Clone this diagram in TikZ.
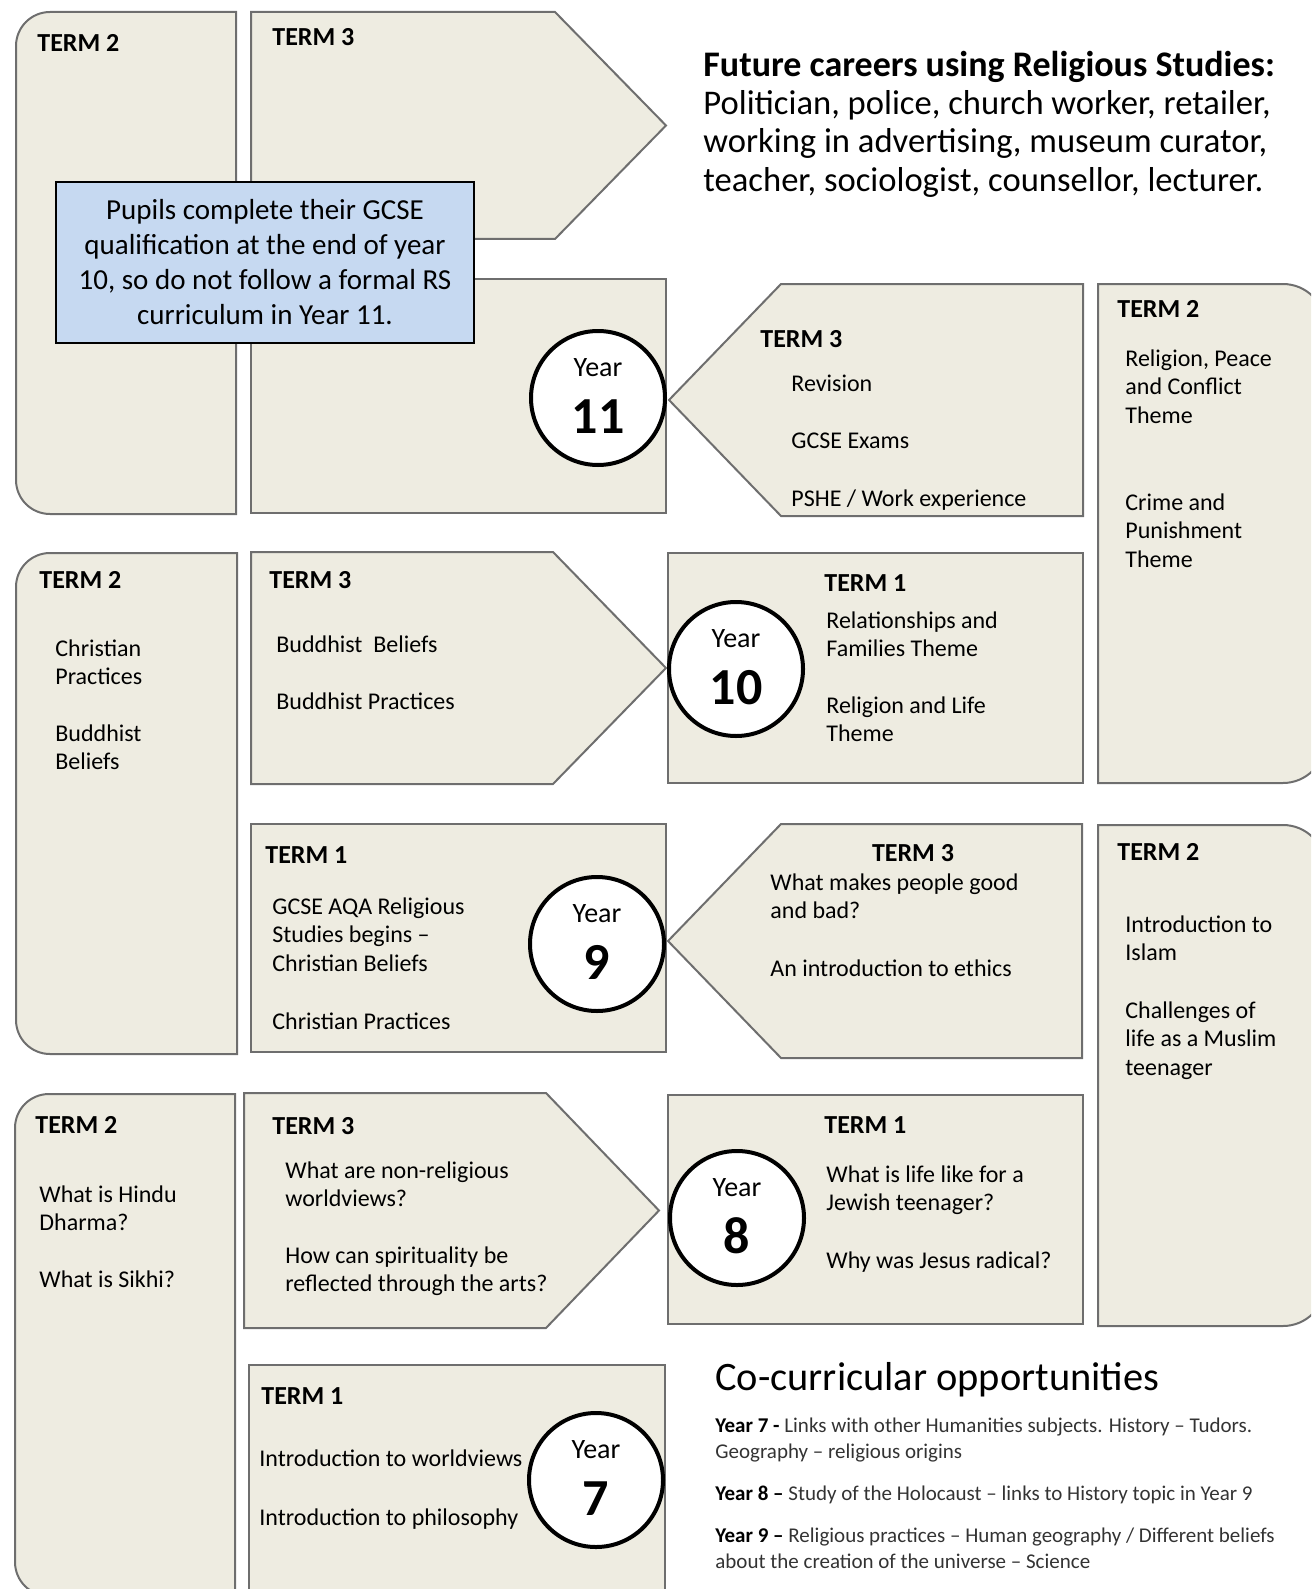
\documentclass[tikz,border=0pt]{standalone}
\usepackage{fontspec}
\setmainfont{Carlito}
\definecolor{boxfill}{HTML}{EEECE1}
\definecolor{boxline}{HTML}{6E6E6E}
\definecolor{notefill}{HTML}{C6D9F1}
\definecolor{cotext}{HTML}{333333}
\tikzset{
  box/.style={draw=boxline, fill=boxfill, line width=1pt, line join=miter},
  yearc/.style={circle, draw=black, fill=white, line width=2pt, minimum size=67pt, inner sep=0pt},
  yeartxt/.style={anchor=base, inner sep=0pt, font=\fontsize{14}{16}\selectfont},
  yearnum/.style={anchor=base, inner sep=0pt, font=\fontsize{26}{30}\selectfont\bfseries},
  term/.style={anchor=base west, inner sep=0pt, font=\fontsize{13}{15}\selectfont\bfseries},
  termc/.style={term, anchor=base},
  body/.style={anchor=base west, inner sep=0pt, align=left, font=\fontsize{12}{14.25}\selectfont},
  note/.style={draw=black, fill=notefill, line width=1pt, minimum width=209pt, minimum height=80.5pt,
    inner sep=0pt, align=center, font=\fontsize{14.5}{17.5}\selectfont},
  careers/.style={anchor=base west, inner sep=0pt, align=left, font=\fontsize{17.3}{19.25}\selectfont},
  cohead/.style={anchor=base west, inner sep=0pt, font=\fontsize{20.2}{24}\selectfont},
  coitem/.style={anchor=base west, inner sep=0pt, align=left, text=cotext, font=\fontsize{10.5}{13.25}\selectfont},
}
% left-rounded box: L T R B
\newcommand\boxroundL[4]{%
  \draw[box] (#3,#2) -- (#1+34,#2) .. controls (#1+15.2,#2) and (#1,#2+15.2) .. (#1,#2+34)
    -- (#1,#4-34) .. controls (#1,#4-15.2) and (#1+15.2,#4) .. (#1+34,#4) -- (#3,#4) -- cycle;}
% right-rounded box: L T R B
\newcommand\boxroundR[4]{%
  \draw[box] (#1,#2) -- (#3-42,#2) .. controls (#3-18.8,#2) and (#3,#2+18.8) .. (#3,#2+42)
    -- (#3,#4-42) .. controls (#3,#4-18.8) and (#3-18.8,#4) .. (#3-42,#4) -- (#1,#4) -- cycle;}
% right-pointing pentagon: L T S tipX B
\newcommand\penR[5]{%
  \draw[box] (#1,#2) -- (#3,#2) -- (#4,{(#2+#5)/2}) -- (#3,#5) -- (#1,#5) -- cycle;}
% left-pointing pentagon: tipX S R T B
\newcommand\penL[5]{%
  \draw[box] (#1,{(#4+#5)/2}) -- (#2,#4) -- (#3,#4) -- (#3,#5) -- (#2,#5) -- cycle;}

\begin{document}
\begin{tikzpicture}[x=0.5pt, y=-0.5pt]
\useasboundingbox (0,0) rectangle (1311,1589);
\clip (0,0) rectangle (1311,1589);

% ---------- Year 11 row ----------
\boxroundL{16}{12}{236}{514}
\penR{251}{12}{555}{666}{239}
\draw[box] (251,279) rectangle (666,513);
\penL{669}{781}{1083}{284}{516}
\boxroundR{1098}{284}{1325}{783}

% ---------- Year 10 / 9 ----------
\boxroundL{16}{553}{237}{1054}
\penR{251}{552}{553}{666}{784}
\draw[box] (668,553) rectangle (1083,783);
\draw[box] (251,824) rectangle (666,1052);
\penL{668}{781}{1082}{824}{1058}
\boxroundR{1098}{825}{1325}{1326}

% ---------- Year 8 / 7 ----------
\boxroundL{15}{1094}{235}{1596}
\penR{244}{1093}{546}{659}{1328}
\draw[box] (668,1095) rectangle (1083,1324);
\draw[box] (249,1365) rectangle (665,1605);

% ---------- circles ----------
\node[yearc] (c11) at (598,398) {};
\node[yeartxt] (c11a) at (598,376) {Year};
\node[yearnum] (c11b) at (598,433) {11};
\node[yearc] (c10) at (736,669) {};
\node[yeartxt] (c10a) at (736,647) {Year};
\node[yearnum] (c10b) at (736,704) {10};
\node[yearc] (c9) at (597,944) {};
\node[yeartxt] (c9a) at (597,922) {Year};
\node[yearnum] (c9b) at (597,979) {9};
\node[yearc] (c8) at (737,1218) {};
\node[yeartxt] (c8a) at (737,1196) {Year};
\node[yearnum] (c8b) at (737,1253) {8};
\node[yearc] (c7) at (596,1480) {};
\node[yeartxt] (c7a) at (596,1458) {Year};
\node[yearnum] (c7b) at (596,1515) {7};

% ---------- note ----------
\node[note] (note) at (265,262.5) {Pupils complete their GCSE\\qualification at the end of year\\10, so do not follow a formal RS\\curriculum in Year 11.};

% ---------- Year 11 texts ----------
\node[term] (t11a) at (37,52) {TERM 2};
\node[term] (t11b) at (272,46) {TERM 3};
\node[term] (t11c) at (760,347) {TERM 3};
\node[body] (t11c1) at (791,391) {Revision};
\node[body] (t11c2) at (791,448) {GCSE Exams};
\node[body] (t11c3) at (791,506) {PSHE / Work experience};

\node[term] (t10r) at (1117,317) {TERM 2};
\node[body] (t10r1) at (1125,423) {Religion, Peace\\and Conflict\\Theme};
\node[body] (t10r2) at (1125,567) {Crime and\\Punishment\\Theme};

% ---------- Year 10 texts ----------
\node[term] (t10a) at (824,591) {TERM 1};
\node[body] (t10a1) at (826,656.5) {Relationships and\\Families Theme};
\node[body] (t10a2) at (826,741.5) {Religion and Life\\Theme};
\node[term] (t10l) at (39,588) {TERM 2};
\node[body] (t10l1) at (55,684.5) {Christian\\Practices};
\node[body] (t10l2) at (55,769.5) {Buddhist\\Beliefs};
\node[term] (t10m) at (269,588) {TERM 3};
\node[body] (t10m1) at (276,652) {Buddhist\ \ Beliefs};
\node[body] (t10m2) at (276,709) {Buddhist Practices};

% ---------- Year 9 texts ----------
\node[term] (t9a) at (265,863) {TERM 1};
\node[body] (t9a1) at (272,971) {GCSE AQA Religious\\Studies begins –\\Christian Beliefs};
\node[body] (t9a2) at (272,1029) {Christian Practices};
\node[termc] (t9b) at (913,861) {TERM 3};
\node[body] (t9b1) at (770,918.5) {What makes people good\\and bad?};
\node[body] (t9b2) at (770,976) {An introduction to ethics};
\node[term] (t9r) at (1117,860) {TERM 2};
\node[body] (t9r1) at (1125,960.5) {Introduction to\\Islam};
\node[body] (t9r2) at (1125,1075) {Challenges of\\life as a Muslim\\teenager};

% ---------- Year 8 texts ----------
\node[term] (t8a) at (824,1133) {TERM 1};
\node[body] (t8a1) at (826,1210.5) {What is life like for a\\Jewish teenager?};
\node[body] (t8a2) at (826,1268) {Why was Jesus radical?};
\node[term] (t8l) at (35,1133) {TERM 2};
\node[body] (t8l1) at (39,1230.5) {What is Hindu\\Dharma?};
\node[body] (t8l2) at (39,1287) {What is Sikhi?};
\node[term] (t8m) at (272,1134) {TERM 3};
\node[body] (t8m1) at (285,1206.5) {What are non-religious\\worldviews?};
\node[body] (t8m2) at (285,1291.5) {How can spirituality be\\reflected through the arts?};

% ---------- Year 7 texts ----------
\node[term] (t7a) at (261,1404) {TERM 1};
\node[body] (t7a1) at (259,1466) {Introduction to worldviews};
\node[body] (t7a2) at (259,1525) {Introduction to philosophy};

% ---------- careers ----------
\node[careers] (careers) at (703,191.5) {{\fontsize{18}{19.25}\selectfont\bfseries Future careers using Religious Studies:}\\Politician, police, church worker, retailer,\\working in advertising, museum curator,\\teacher, sociologist, counsellor, lecturer.};

% ---------- co-curricular ----------
\node[cohead] (cohead) at (715,1390) {Co-curricular opportunities};
\node[coitem] (co7) at (715,1458.5) {\textcolor{black}{\textbf{Year 7 -}} Links with other Humanities subjects. History – Tudors.\\Geography – religious origins};
\node[coitem] (co8) at (715,1500) {\textcolor{black}{\textbf{Year 8 –}} Study of the Holocaust – links to History topic in Year 9};
\node[coitem] (co9) at (715,1568.5) {\textcolor{black}{\textbf{Year 9 –}} Religious practices – Human geography / Different beliefs\\about the creation of the universe – Science};
\end{tikzpicture}
\end{document}
